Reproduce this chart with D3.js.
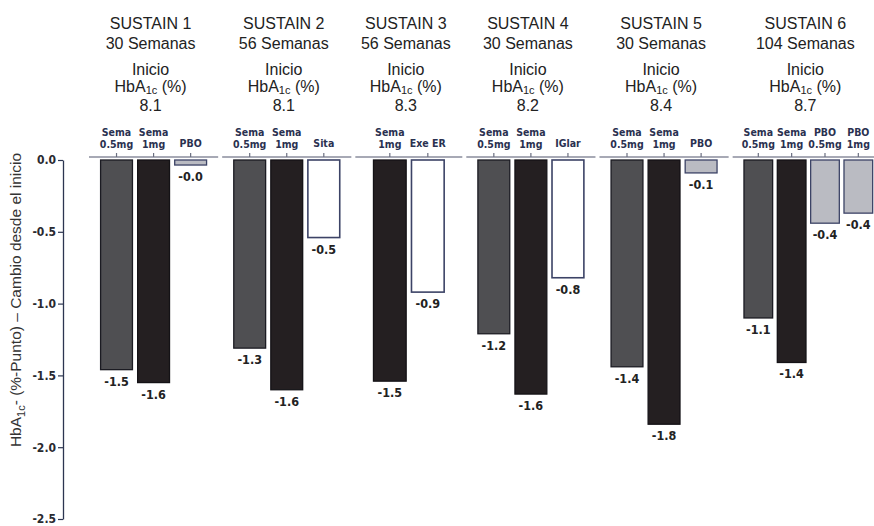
<!DOCTYPE html>
<html>
<head>
<meta charset="utf-8">
<script src="https://cdn.jsdelivr.net/npm/d3@7"></script>
<style>
  html, body { margin: 0; padding: 0; background: #fff; }
  svg { display: block; }
  .head { font-family: "Liberation Sans", Arial, sans-serif; font-size: 16px; fill: #222; text-anchor: middle; }
  .cond { font-family: "DejaVu Sans Condensed", "DejaVu Sans", sans-serif; font-stretch: condensed; font-weight: bold; }
  .arm { font-size: 10.5px; fill: #2a3150; text-anchor: middle; }
  .val { font-size: 12.5px; fill: #222; text-anchor: middle; }
  .ylabel { font-family: "Liberation Sans", Arial, sans-serif; font-size: 15.5px; fill: #333; text-anchor: middle; }
</style>
</head>
<body>
<div id="chart"></div>
<script>
const studies = ['SUSTAIN 1', 'SUSTAIN 2', 'SUSTAIN 3', 'SUSTAIN 4', 'SUSTAIN 5', 'SUSTAIN 6']
const durations = ['30  Semanas', '56 Semanas', '56 Semanas', '30 Semanas', '30 Semanas', '104 Semanas']
const baselineHbA1c = ['8.1', '8.1', '8.3', '8.2', '8.4', '8.7']

const armStudy = [
  'SUSTAIN 1', 'SUSTAIN 1', 'SUSTAIN 1',
  'SUSTAIN 2', 'SUSTAIN 2', 'SUSTAIN 2',
  'SUSTAIN 3', 'SUSTAIN 3',
  'SUSTAIN 4', 'SUSTAIN 4', 'SUSTAIN 4',
  'SUSTAIN 5', 'SUSTAIN 5', 'SUSTAIN 5',
  'SUSTAIN 6', 'SUSTAIN 6', 'SUSTAIN 6', 'SUSTAIN 6',
]
const armNames = [
  ['Sema', '0.5mg'], ['Sema', '1mg'], ['PBO'],
  ['Sema', '0.5mg'], ['Sema', '1mg'], ['Sita'],
  ['Sema', '1mg'], ['Exe ER'],
  ['Sema', '0.5mg'], ['Sema', '1mg'], ['IGlar'],
  ['Sema', '0.5mg'], ['Sema', '1mg'], ['PBO'],
  ['Sema', '0.5mg'], ['Sema', '1mg'], ['PBO', '0.5mg'], ['PBO', '1mg'],
]
const armKind = [
  'sema05', 'sema1', 'pbo',
  'sema05', 'sema1', 'comp',
  'sema1', 'comp',
  'sema05', 'sema1', 'comp',
  'sema05', 'sema1', 'pbo',
  'sema05', 'sema1', 'pbo', 'pbo',
]
const armChange = [
  -1.46, -1.55, -0.035,
  -1.31, -1.6, -0.54,
  -1.54, -0.92,
  -1.21, -1.63, -0.82,
  -1.44, -1.84, -0.09,
  -1.1, -1.41, -0.44, -0.37,
]
const armChangeText = [
  '-1.5', '-1.6', '-0.0',
  '-1.3', '-1.6', '-0.5',
  '-1.5', '-0.9',
  '-1.2', '-1.6', '-0.8',
  '-1.4', '-1.8', '-0.1',
  '-1.1', '-1.4', '-0.4', '-0.4',
]

const yTicks = [0, -0.5, -1, -1.5, -2, -2.5]
const yTickText = ['0.0', '-0.5', '-1.0', '-1.5', '-2.0', '-2.5']

const FILL = { sema05: '#4f4f52', sema1: '#241f21', pbo: '#babbc2', comp: '#ffffff' }
const STROKE = { sema05: '#1b1b22', sema1: '#141216', pbo: '#3c4366', comp: '#3c4366' }

const width = 874
const height = 526

const svg = d3.select('#chart').append('svg').attr('width', width).attr('height', height)

const y = d3.scaleLinear().domain([-2.5, 0]).range([519, 160])

// y axis
const yAxisG = svg.append('g').attr('transform', 'translate(63,0)')
yAxisG.call(
  d3.axisLeft(y)
    .tickValues(yTicks)
    .tickFormat((d, i) => yTickText[i])
    .tickSize(5)
    .tickSizeOuter(0)
    .tickPadding(2),
)
yAxisG.select('.domain').attr('stroke', '#2c3550').attr('stroke-width', 1.3)
yAxisG.selectAll('.tick line').attr('stroke', '#2c3550').attr('stroke-width', 1.2)
yAxisG.selectAll('.tick text')
  .attr('class', 'cond')
  .attr('font-size', 12)
  .attr('fill', '#2a2a30')

const ylab = svg.append('text').attr('class', 'ylabel')
  .attr('transform', 'translate(21,300) rotate(-90)')
ylab.append('tspan').text('HbA')
ylab.append('tspan').attr('font-size', 11).attr('dy', 4).text('1c')
ylab.append('tspan').attr('dy', -4).text('- (%-Punto) – Cambio desde el inicio')

// group layout: each study gets room for its arms plus some padding
const counts = studies.map((s) => armStudy.filter((a) => a === s).length)
const units = counts.map((n) => n + 3)
const cum = d3.cumsum([0, ...units])
const xu = d3.scaleLinear().domain([0, d3.sum(units)]).range([87, 886])

studies.forEach((study, gi) => {
  const x0 = xu(cum[gi])
  const x1 = xu(cum[gi + 1])
  const cx = (x0 + x1) / 2
  const idx = d3.range(armStudy.length).filter((i) => armStudy[i] === study)
  const n = idx.length
  const step = Math.min(38, (x1 - x0 - 22) / n)

  const x = d3.scaleBand()
    .domain(idx)
    .range([cx - (n * step) / 2, cx + (n * step) / 2])
    .paddingInner(0.14)
    .paddingOuter(0.07)

  const g = svg.append('g')

  // header
  const hx = cx - 3
  g.append('text').attr('class', 'head').attr('x', hx).attr('y', 29).text(study)
  g.append('text').attr('class', 'head').attr('x', hx).attr('y', 49).text(durations[gi])
  g.append('text').attr('class', 'head').attr('x', hx).attr('y', 75).text('Inicio')
  const hb = g.append('text').attr('class', 'head').attr('x', hx).attr('y', 92)
  hb.append('tspan').text('HbA')
  hb.append('tspan').attr('font-size', 11).attr('dy', 2).text('1c')
  hb.append('tspan').attr('dy', -2).text(' (%)')
  g.append('text').attr('class', 'head').attr('x', hx).attr('y', 111).text(baselineHbA1c[gi])

  // arm labels
  g.selectAll('text.arm')
    .data(idx)
    .join('text')
    .attr('class', 'arm cond')
    .selectAll('tspan')
    .data((i) => armNames[i].map((t, k) => ({ t, i, k, len: armNames[i].length })))
    .join('tspan')
    .attr('x', (d) => x(d.i) + x.bandwidth() / 2)
    .attr('y', (d) => (d.len === 1 ? 147 : 136 + d.k * 11.5))
    .text((d) => d.t)

  // header rule with ticks
  g.append('line')
    .attr('x1', x0 + 2).attr('x2', x1 - 2)
    .attr('y1', y(0) - 3).attr('y2', y(0) - 3)
    .attr('stroke', '#8a8d9c').attr('stroke-width', 1.5)
  g.selectAll('line.tk')
    .data(idx)
    .join('line')
    .attr('class', 'tk')
    .attr('x1', (i) => x(i) + x.bandwidth() / 2)
    .attr('x2', (i) => x(i) + x.bandwidth() / 2)
    .attr('y1', y(0) - 3).attr('y2', y(0) - 7)
    .attr('stroke', '#6b6f80').attr('stroke-width', 1.2)

  // bars
  g.selectAll('rect')
    .data(idx)
    .join('rect')
    .attr('x', (i) => x(i))
    .attr('width', x.bandwidth())
    .attr('y', y(0))
    .attr('height', (i) => y(armChange[i]) - y(0))
    .attr('fill', (i) => FILL[armKind[i]])
    .attr('stroke', (i) => STROKE[armKind[i]])
    .attr('stroke-width', (i) => (armKind[i] === 'comp' ? 1.6 : 1.3))

  // value labels
  g.selectAll('text.val')
    .data(idx)
    .join('text')
    .attr('class', 'val cond')
    .attr('x', (i) => x(i) + x.bandwidth() / 2)
    .attr('y', (i) => y(armChange[i]) + 16)
    .text((i) => armChangeText[i])
})
</script>
</body>
</html>
